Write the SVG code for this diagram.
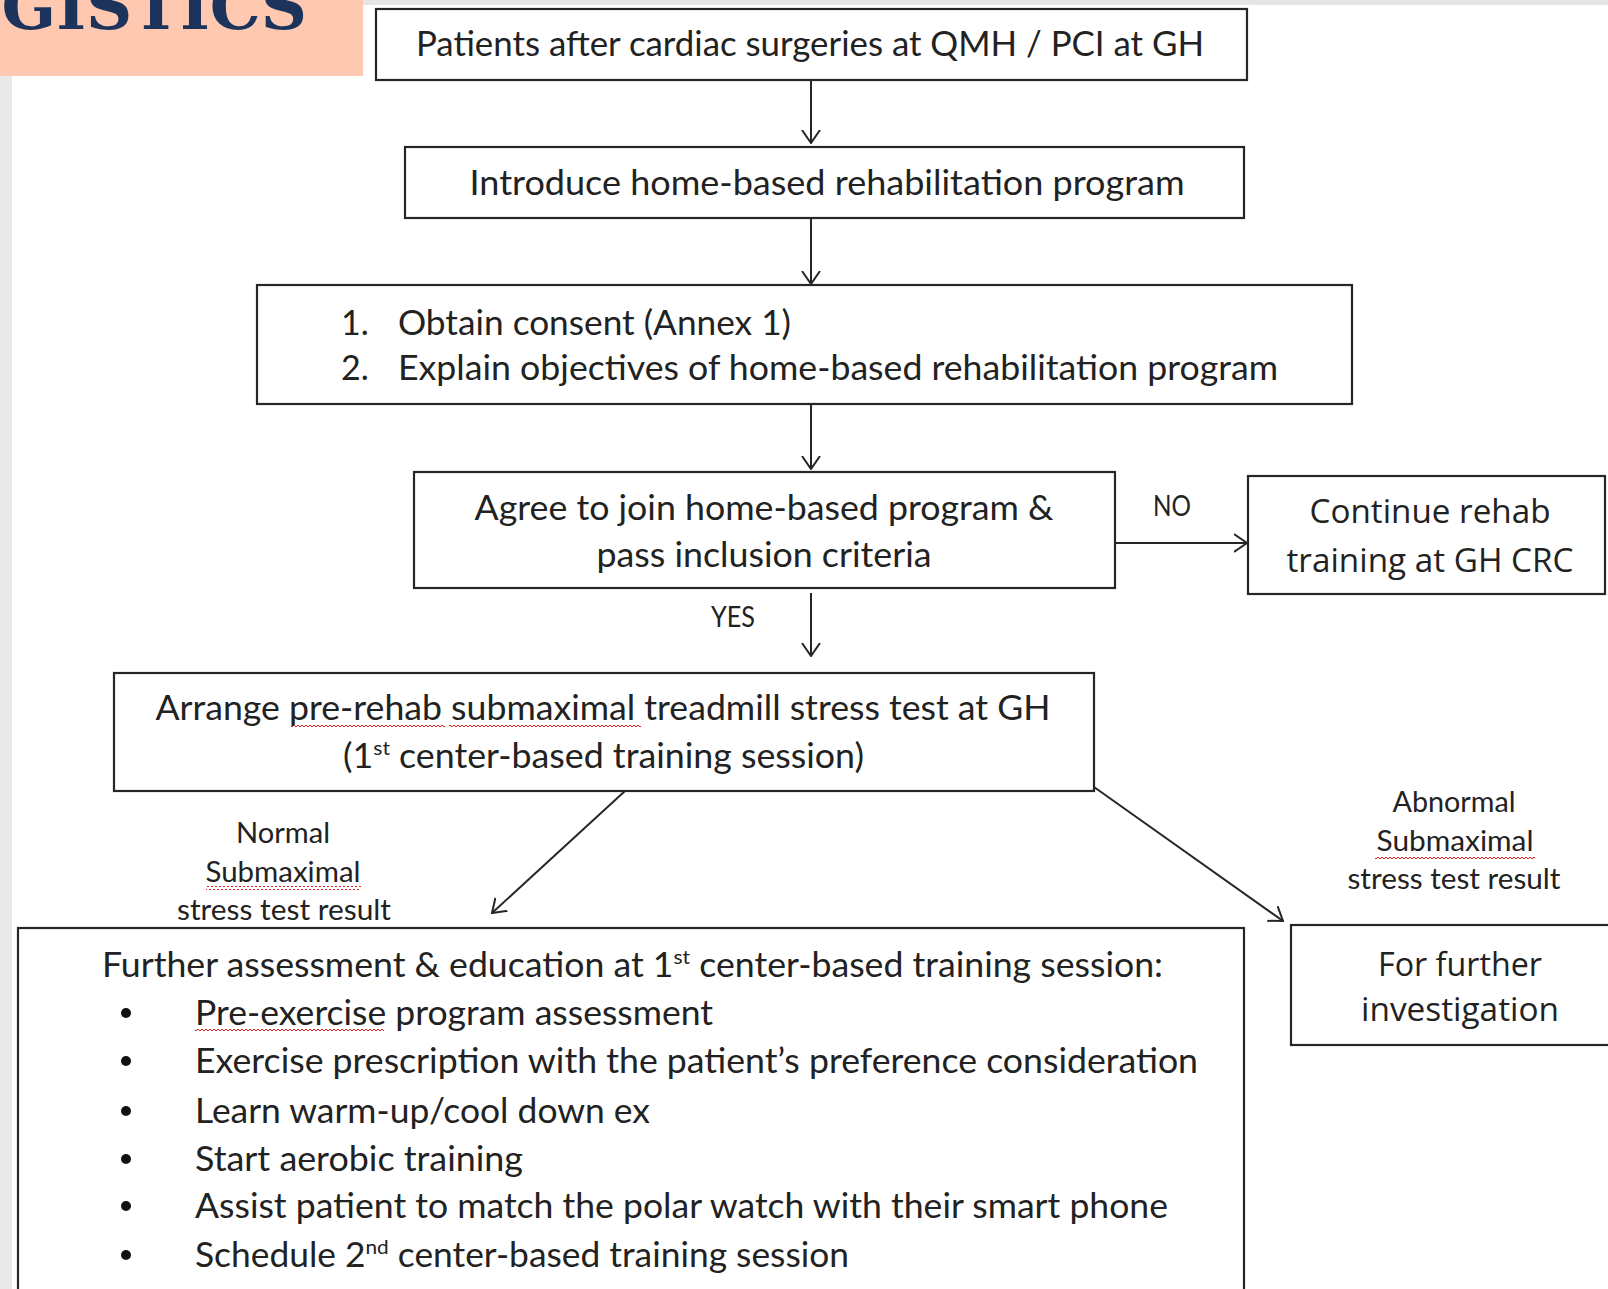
<svg xmlns="http://www.w3.org/2000/svg" width="1608" height="1289" viewBox="0 0 1608 1289">
  <style>
    .box { fill: #ffffff; stroke: #262626; stroke-width: 2.2; }
    .t { font-family: Lato, "Liberation Sans", sans-serif; font-size: 34px; fill: #222222; }
    .ts { font-family: "Open Sans", Lato, sans-serif; font-size: 32px; fill: #222222; }
    .lbl { font-family: Lato, "Liberation Sans", sans-serif; font-size: 28px; fill: #222222; }
    .mid { text-anchor: middle; }
    .edge { stroke: #262626; stroke-width: 2; fill: none; marker-end: url(#open); }
    .squig { fill: url(#wave); }
  </style>
  <defs>
    <marker id="open" viewBox="0 0 14 20" refX="13" refY="10" markerWidth="14" markerHeight="20" markerUnits="userSpaceOnUse" orient="auto">
      <path d="M0,1 L13,10 L0,19" fill="none" stroke="#262626" stroke-width="2"/>
    </marker>
    <pattern id="wave" width="4" height="4" patternUnits="userSpaceOnUse">
      <path d="M0,3 L2,1 L4,3" fill="none" stroke="#e02020" stroke-width="1"/>
    </pattern>
  </defs>

  <!-- page background -->
  <rect x="0" y="0" width="1608" height="1289" fill="#ffffff"/>
  <rect x="0" y="0" width="12" height="1289" fill="#e9e9e9"/>
  <rect x="363" y="0" width="1245" height="5" fill="#e6e6e6"/>

  <!-- title banner -->
  <g id="banner">
    <rect x="0" y="0" width="363" height="76" fill="#ffc8b0"/>
    <text x="307" y="29" text-anchor="end" font-family="'DejaVu Serif', 'Liberation Serif', serif" font-weight="bold" font-size="64" fill="#1c335c">GISTICS</text>
  </g>

  <!-- connectors -->
  <g id="connectors">
    <line class="edge" x1="811" y1="80" x2="811" y2="143"/>
    <line class="edge" x1="811" y1="218" x2="811" y2="284"/>
    <line class="edge" x1="811" y1="404" x2="811" y2="469"/>
    <line class="edge" x1="1115" y1="543" x2="1247" y2="543"/>
    <line class="edge" x1="811" y1="593" x2="811" y2="656"/>
    <line class="edge" x1="625" y1="791" x2="492" y2="913"/>
    <line class="edge" x1="1094" y1="787" x2="1283" y2="921"/>
    <text class="lbl mid" x="1172" y="516" textLength="38" lengthAdjust="spacingAndGlyphs">NO</text>
    <text class="lbl mid" x="733" y="627" textLength="44" lengthAdjust="spacingAndGlyphs">YES</text>
    <text class="lbl mid" x="283" y="843" textLength="94" lengthAdjust="spacingAndGlyphs">Normal</text>
    <text class="lbl mid" x="283" y="882" textLength="155" lengthAdjust="spacingAndGlyphs">Submaximal</text>
    <text class="lbl mid" x="284" y="920" textLength="214" lengthAdjust="spacingAndGlyphs">stress test result</text>
    <rect class="squig" x="206" y="886" width="155" height="4"/>
    <text class="lbl mid" x="1454" y="812" textLength="123" lengthAdjust="spacingAndGlyphs">Abnormal</text>
    <text class="lbl mid" x="1455" y="851" textLength="157" lengthAdjust="spacingAndGlyphs">Submaximal</text>
    <text class="lbl mid" x="1454" y="889" textLength="213" lengthAdjust="spacingAndGlyphs">stress test result</text>
    <rect class="squig" x="1375" y="855" width="160" height="4"/>
  </g>

  <g id="patients">
    <rect class="box" x="376" y="9" width="871" height="71"/>
    <text class="t mid" x="810" y="56" textLength="788" lengthAdjust="spacingAndGlyphs">Patients after cardiac surgeries at QMH / PCI at GH</text>
  </g>

  <g id="introduce">
    <rect class="box" x="405" y="147" width="839" height="71"/>
    <text class="t mid" x="827" y="195" textLength="715" lengthAdjust="spacingAndGlyphs">Introduce home-based rehabilitation program</text>
  </g>

  <g id="consent">
    <rect class="box" x="257" y="285" width="1095" height="119"/>
    <text class="t" x="341" y="335">1.</text>
    <text class="t" x="398" y="335" textLength="393" lengthAdjust="spacingAndGlyphs">Obtain consent (Annex 1)</text>
    <text class="t" x="341" y="380">2.</text>
    <text class="t" x="398" y="380" textLength="880" lengthAdjust="spacingAndGlyphs">Explain objectives of home-based rehabilitation program</text>
  </g>

  <g id="agree">
    <rect class="box" x="414" y="472" width="701" height="116"/>
    <text class="t mid" x="764" y="520" textLength="579" lengthAdjust="spacingAndGlyphs">Agree to join home-based program &amp;</text>
    <text class="t mid" x="764" y="567" textLength="335" lengthAdjust="spacingAndGlyphs">pass inclusion criteria</text>
  </g>

  <g id="continue-rehab">
    <rect class="box" x="1248" y="476" width="357" height="118"/>
    <text class="ts mid" x="1430" y="523" textLength="241" lengthAdjust="spacingAndGlyphs">Continue rehab</text>
    <text class="ts mid" x="1430" y="572" textLength="287" lengthAdjust="spacingAndGlyphs">training at GH CRC</text>
  </g>

  <g id="stress-test">
    <rect class="box" x="114" y="673" width="980" height="118"/>
    <text class="t mid" x="603" y="720" textLength="895" lengthAdjust="spacingAndGlyphs">Arrange pre-rehab submaximal treadmill stress test at GH</text>
    <rect class="squig" x="291" y="724" width="154" height="4"/>
    <rect class="squig" x="449" y="724" width="192" height="4"/>
    <text class="t" x="343" y="768" textLength="521" lengthAdjust="spacingAndGlyphs">(1<tspan font-size="20" dy="-13">st</tspan><tspan dy="13"> center-based training session)</tspan></text>
  </g>

  <g id="assessment">
    <rect class="box" x="18" y="928" width="1226" height="380"/>
    <text class="t" x="102" y="977" textLength="1061" lengthAdjust="spacingAndGlyphs">Further assessment &amp; education at 1<tspan font-size="20" dy="-13">st</tspan><tspan dy="13"> center-based training session:</tspan></text>
    <g fill="#111">
      <circle cx="126" cy="1013" r="5"/>
      <circle cx="126" cy="1061" r="5"/>
      <circle cx="126" cy="1111" r="5"/>
      <circle cx="126" cy="1159" r="5"/>
      <circle cx="126" cy="1206" r="5"/>
      <circle cx="126" cy="1255" r="5"/>
    </g>
    <text class="t" x="195" y="1025" textLength="518" lengthAdjust="spacingAndGlyphs">Pre-exercise program assessment</text>
    <rect class="squig" x="195" y="1029" width="189" height="4"/>
    <text class="t" x="195" y="1073" textLength="1003" lengthAdjust="spacingAndGlyphs">Exercise prescription with the patient’s preference consideration</text>
    <text class="t" x="195" y="1123" textLength="455" lengthAdjust="spacingAndGlyphs">Learn warm-up/cool down ex</text>
    <text class="t" x="195" y="1171" textLength="328" lengthAdjust="spacingAndGlyphs">Start aerobic training</text>
    <text class="t" x="195" y="1218" textLength="973" lengthAdjust="spacingAndGlyphs">Assist patient to match the polar watch with their smart phone</text>
    <text class="t" x="195" y="1267" textLength="654" lengthAdjust="spacingAndGlyphs">Schedule 2<tspan font-size="20" dy="-13">nd</tspan><tspan dy="13"> center-based training session</tspan></text>
  </g>

  <g id="investigation">
    <rect class="box" x="1291" y="925" width="319" height="120"/>
    <text class="ts mid" x="1460" y="976" textLength="164" lengthAdjust="spacingAndGlyphs">For further</text>
    <text class="ts mid" x="1460" y="1021" textLength="198" lengthAdjust="spacingAndGlyphs">investigation</text>
  </g>
</svg>
